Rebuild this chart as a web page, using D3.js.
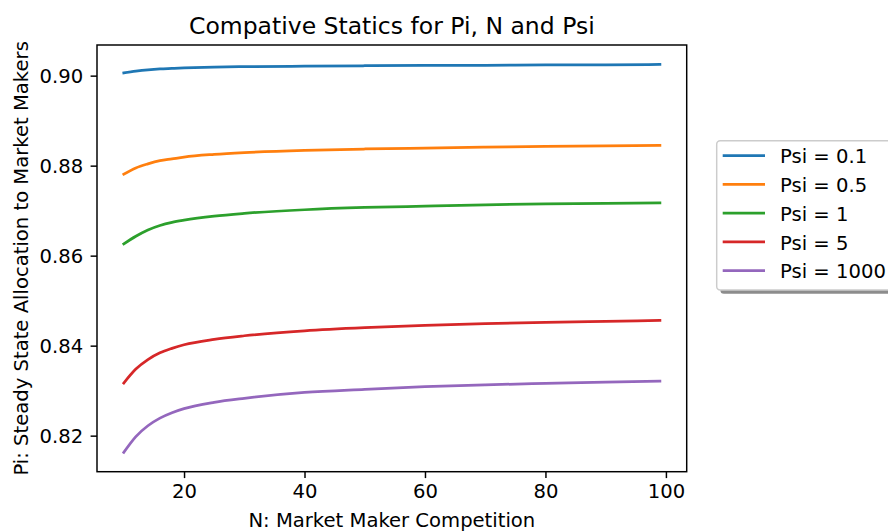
<!DOCTYPE html>
<html lang="en">
    <head>
        <meta charset="utf-8">
        <title>Compative Statics</title>
        <script src="https://cdn.jsdelivr.net/npm/d3@7/dist/d3.min.js"></script>
        <style type="text/css">
            body { margin: 0; background: #fff; }
            text { font-family: "DejaVu Sans", sans-serif; fill: #000; }
        </style>
    </head>
    <body>
        <script type="text/javascript">
            // data
            var nValues = [10, 12, 14, 16, 18, 20, 25, 30, 40, 50, 60, 70, 80, 90, 99];
            var psi01   = [0.9006, 0.9010, 0.9013, 0.9015, 0.9016, 0.9017, 0.9019, 0.9020, 0.9021, 0.9022, 0.9023, 0.9023, 0.9024, 0.9024, 0.9025];
            var psi05   = [0.8781, 0.8795, 0.8804, 0.8811, 0.8815, 0.8819, 0.8825, 0.8829, 0.8834, 0.8837, 0.8839, 0.8841, 0.8843, 0.8844, 0.8845];
            var psi1    = [0.8626, 0.8643, 0.8657, 0.8667, 0.8674, 0.8679, 0.8688, 0.8694, 0.8702, 0.8707, 0.8710, 0.8713, 0.8715, 0.8716, 0.8717];
            var psi5    = [0.8317, 0.8348, 0.8369, 0.8384, 0.8394, 0.8402, 0.8414, 0.8422, 0.8433, 0.8440, 0.8445, 0.8449, 0.8452, 0.8454, 0.8456];
            var psi1000 = [0.8163, 0.8198, 0.8222, 0.8239, 0.8251, 0.8260, 0.8274, 0.8283, 0.8296, 0.8303, 0.8309, 0.8313, 0.8316, 0.8319, 0.8321];
            var seriesNames = ['Psi = 0.1', 'Psi = 0.5', 'Psi = 1', 'Psi = 5', 'Psi = 1000'];
            var colors = ['#1f77b4', '#ff7f0e', '#2ca02c', '#d62728', '#9467bd'];
            var xTicks = [20, 40, 60, 80, 100];
            var yTicks = [0.82, 0.84, 0.86, 0.88, 0.90];

            var series = [psi01, psi05, psi1, psi5, psi1000];

            var w = 888, h = 531;
            var fs = '19.6px';
            // plot box (window.top is reserved, so use own names)
            var pLeft = 97, pRight = 686.7, pTop = 45, pBottom = 471.7;

            var svg = d3.select('body').append('svg')
                        .attr('width', w)
                        .attr('height', h);

            // matplotlib style 5% margins
            var xMin = d3.min(nValues), xMax = d3.max(nValues);
            var xPad = (xMax - xMin) * 0.05;
            var allY = d3.merge(series);
            var yMin = d3.min(allY), yMax = d3.max(allY);
            var yPad = (yMax - yMin) * 0.05;

            var xScale = d3.scaleLinear()
                          .domain([xMin - xPad, xMax + xPad])
                          .range([pLeft, pRight]);
            var yScale = d3.scaleLinear()
                          .domain([yMin - yPad, yMax + yPad])
                          .range([pBottom, pTop]);

            // lines
            var line = d3.line()
                         .x(function(d) { return xScale(d[0]); })
                         .y(function(d) { return yScale(d[1]); })
                         .curve(d3.curveMonotoneX);

            series.forEach(function(s, i) {
              svg.append('path')
                 .datum(nValues.map(function(n, j) { return [n, s[j]]; }))
                 .attr('d', line)
                 .attr('fill', 'none')
                 .attr('stroke', colors[i])
                 .attr('stroke-width', 2.75)
                 .attr('stroke-linecap', 'square');
            });

            // axes
            var xAxis = d3.axisBottom(xScale)
                          .tickValues(xTicks)
                          .tickFormat(d3.format('d'))
                          .tickSize(6.4)
                          .tickPadding(6);
            var yAxis = d3.axisLeft(yScale)
                          .tickValues(yTicks)
                          .tickFormat(d3.format('.2f'))
                          .tickSize(6.4)
                          .tickPadding(7.5);

            var gx = svg.append('g')
                        .attr('transform', 'translate(0,' + pBottom + ')')
                        .call(xAxis);
            var gy = svg.append('g')
                        .attr('transform', 'translate(' + pLeft + ',0)')
                        .call(yAxis);

            [gx, gy].forEach(function(g) {
              g.select('.domain').remove();
              g.selectAll('.tick line').attr('stroke', '#000').attr('stroke-width', 1.47);
              g.selectAll('.tick text')
               .attr('font-family', '"DejaVu Sans", sans-serif')
               .attr('font-size', fs)
               .attr('fill', '#000');
            });
            gy.selectAll('.tick text').attr('dy', '0.36em');

            // frame
            svg.append('rect')
               .attr('x', pLeft)
               .attr('y', pTop)
               .attr('width', pRight - pLeft)
               .attr('height', pBottom - pTop)
               .attr('fill', 'none')
               .attr('stroke', '#000')
               .attr('stroke-width', 1.47);

            // labels
            svg.append('text')
               .attr('x', (pLeft + pRight) / 2)
               .attr('y', 34)
               .attr('text-anchor', 'middle')
               .attr('font-size', '23.5px')
               .text('Compative Statics for Pi, N and Psi');

            svg.append('text')
               .attr('x', (pLeft + pRight) / 2)
               .attr('y', 526.5)
               .attr('text-anchor', 'middle')
               .attr('font-size', fs)
               .text('N: Market Maker Competition');

            svg.append('text')
               .attr('transform', 'translate(28.3,' + ((pTop + pBottom) / 2) + ') rotate(-90)')
               .attr('text-anchor', 'middle')
               .attr('font-size', fs)
               .text('Pi: Steady State Allocation to Market Makers');

            // legend
            var lg = svg.append('g');
            var lx = 716.7, ly = 140.7, lh = 149.3, lw = 200;
            lg.append('rect')
              .attr('x', lx + 3.7)
              .attr('y', ly + 3.7)
              .attr('width', lw)
              .attr('height', lh)
              .attr('rx', 3.5)
              .attr('fill', '#7f7f7f')
              .attr('opacity', 0.9);
            lg.append('rect')
              .attr('x', lx)
              .attr('y', ly)
              .attr('width', lw)
              .attr('height', lh)
              .attr('rx', 3.5)
              .attr('fill', '#fff')
              .attr('stroke', '#cccccc')
              .attr('stroke-width', 1.47);

            seriesNames.forEach(function(name, i) {
              var yy = 155.7 + i * 28.75;
              lg.append('line')
                .attr('x1', 722.7)
                .attr('x2', 765)
                .attr('y1', yy)
                .attr('y2', yy)
                .attr('stroke', colors[i])
                .attr('stroke-width', 2.75);
              lg.append('text')
                .attr('x', 780)
                .attr('y', yy + 7.6)
                .attr('font-size', fs)
                .text(name);
            });
        </script>
    </body>
</html>
